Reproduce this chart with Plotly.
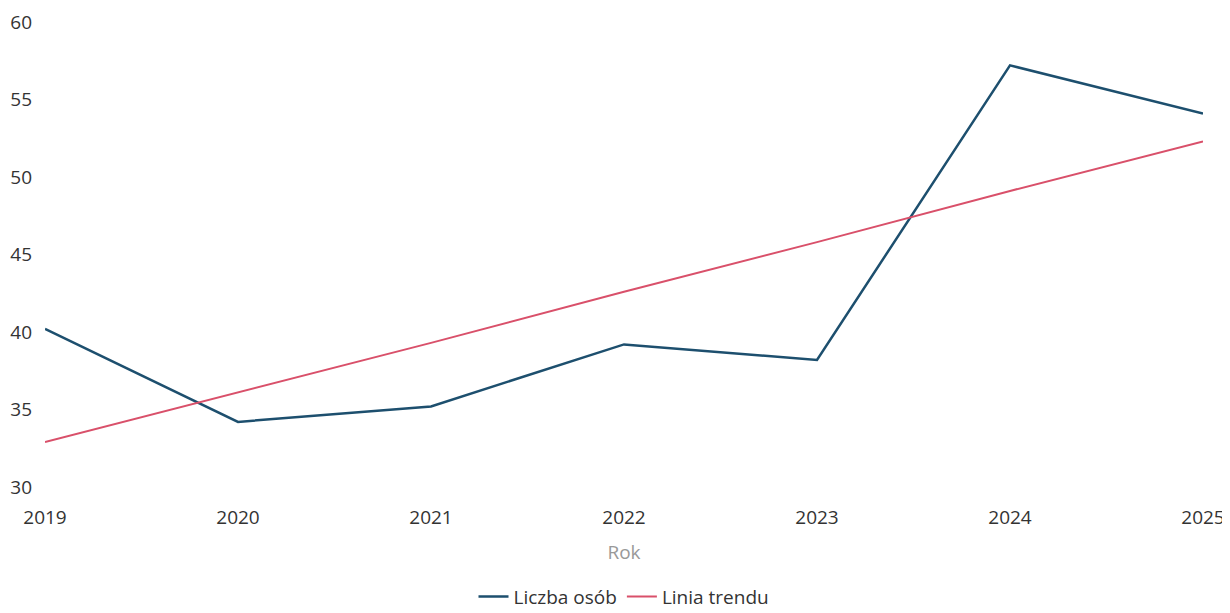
import plotly.graph_objects as go

years = [2019, 2020, 2021, 2022, 2023, 2024, 2025]
liczba_osob = [40.2, 34.2, 35.2, 39.2, 38.2, 57.2, 54.1]
linia_trendu = [32.9, 36.1, 39.3, 42.6, 45.8, 49.1, 52.3]
y_ticks = [30, 35, 40, 45, 50, 55, 60]

fig = go.Figure()
fig.add_trace(go.Scatter(x=years, y=liczba_osob, mode="lines", name="Liczba osób",
                         line=dict(color="#1d4f6e", width=2.5)))
fig.add_trace(go.Scatter(x=years, y=linia_trendu, mode="lines", name="Linia trendu",
                         line=dict(color="#d9506a", width=2)))

fig.update_layout(
    width=1222, height=605,
    margin=dict(l=37, r=27, t=14, b=126, autoexpand=False),
    paper_bgcolor="white", plot_bgcolor="white",
    font=dict(family="Open Sans", size=19, color="#333333"),
    xaxis=dict(title=dict(text="Rok", font=dict(color="#999999", size=19), standoff=16),
               tickvals=years, ticktext=[str(y) for y in years], range=[2019, 2025],
               showgrid=False, zeroline=False, showline=False, ticks="",
               ticklabelstandoff=17, automargin=False),
    yaxis=dict(range=[30, 60], tickvals=y_ticks, showgrid=False, zeroline=False,
               showline=False, ticks="", ticklabelstandoff=12, automargin=False),
    legend=dict(orientation="h", x=0.5, xanchor="center",
                y=-0.236, yanchor="middle",
                font=dict(size=19, color="#333333")),
)
fig.write_html("out.html")
